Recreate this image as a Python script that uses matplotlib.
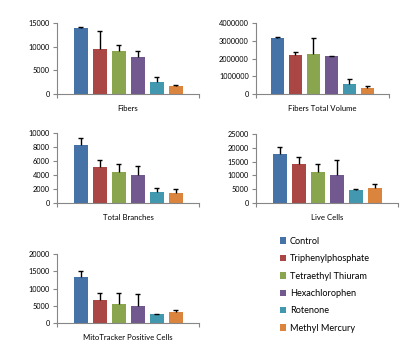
import matplotlib
matplotlib.use("Agg")
import matplotlib.pyplot as plt
import numpy as np

treatments = ["Control", "Triphenylphosphate", "Tetraethyl Thiuram",
              "Hexachlorophen", "Rotenone", "Methyl Mercury"]
colors = ["#4572A7", "#AA4643", "#89A54E", "#71588F", "#4198AF", "#DB843D"]

fibers = [14000, 9530, 9100, 7820, 2490, 1640]
fibers_err = [200, 3840, 1210, 1210, 1060, 280]

volume = [3166000, 2199000, 2256000, 2142000, 550000, 322000]
volume_err = [54000, 151000, 891000, 8000, 265000, 95000]

branches = [8330, 5190, 4480, 4050, 1620, 1480]
branches_err = [960, 950, 1140, 1240, 520, 520]

live = [17700, 14100, 11240, 10170, 4790, 5500]
live_err = [2400, 2410, 2880, 5260, 230, 1320]

mito = [13300, 6700, 5550, 4980, 2680, 3350]
mito_err = [1630, 2010, 3160, 3350, 100, 570]

titles = ["Fibers", "Fibers Total Volume", "Total Branches", "Live Cells",
          "MitoTracker Positive Cells"]
yticks = [np.arange(0, 15001, 5000), np.arange(0, 4000001, 1000000),
          np.arange(0, 10001, 2000), np.arange(0, 25001, 5000),
          np.arange(0, 20001, 5000)]

plt.rcParams['font.family'] = ['Lato', 'DejaVu Sans']

W, H = 411, 353
fig = plt.figure(figsize=(W / 100, H / 100), dpi=100)

# pixel boxes: left, right, top, bottom
boxes = [(57, 199, 23.3, 93.7), (255.7, 388.7, 23.3, 93.7),
         (57, 199, 133.3, 203.3), (256, 398, 133.7, 203.3),
         (57, 199, 253.7, 323.3)]
spacings = [19, 18, 19, 19, 19]
bar_px = [14, 13, 14, 14, 14]

datasets = [(fibers, fibers_err), (volume, volume_err), (branches, branches_err),
            (live, live_err), (mito, mito_err)]

axis_col = "#868686"
handles = None
for i, ((vals, errs), (l, r, t, b)) in enumerate(zip(datasets, boxes)):
    ax = fig.add_axes([l / W, 1 - b / H, (r - l) / W, (b - t) / H])
    x = np.arange(len(vals))
    sp = spacings[i]
    half = (r - l) / sp / 2
    bw = bar_px[i] / sp
    bars = ax.bar(x, vals, width=bw, color=colors, zorder=2)
    if handles is None:
        handles = list(bars)
    vals_a = np.array(vals, dtype=float)
    tops = vals_a + np.array(errs, dtype=float)
    ax.vlines(x, vals_a, tops, color="black", linewidth=1.0, zorder=3)
    capw = 2.5 / sp
    ax.hlines(tops, x - capw, x + capw, color="black", linewidth=1.0, zorder=3)
    ax.set_xlim(2.5 - half, 2.5 + half)
    yt = yticks[i]
    ax.set_ylim(0, yt[-1])
    ax.set_yticks(yt)
    ax.set_yticklabels([str(int(v)) for v in yt], fontsize=5.3)
    ax.set_xticks([2.5 - half, 2.5 + half])
    ax.set_xticklabels([])
    ax.tick_params(axis='both', direction='out', length=3, width=0.8,
                   color=axis_col, pad=2)
    for s in ["top", "right"]:
        ax.spines[s].set_visible(False)
    for s in ["left", "bottom"]:
        ax.spines[s].set_color(axis_col)
        ax.spines[s].set_linewidth(0.8)
    ax.set_xlabel(titles[i], fontsize=5.6, labelpad=3)
    ax.patch.set_alpha(0)

fig.legend(handles, treatments, loc="upper left",
           bbox_to_anchor=(276 / W, 1 - 233 / H), frameon=False,
           fontsize=6.6, handlelength=0.7, handleheight=0.7,
           handletextpad=0.4, labelspacing=0.92, borderaxespad=0)

fig.savefig("out.png", dpi=100)
